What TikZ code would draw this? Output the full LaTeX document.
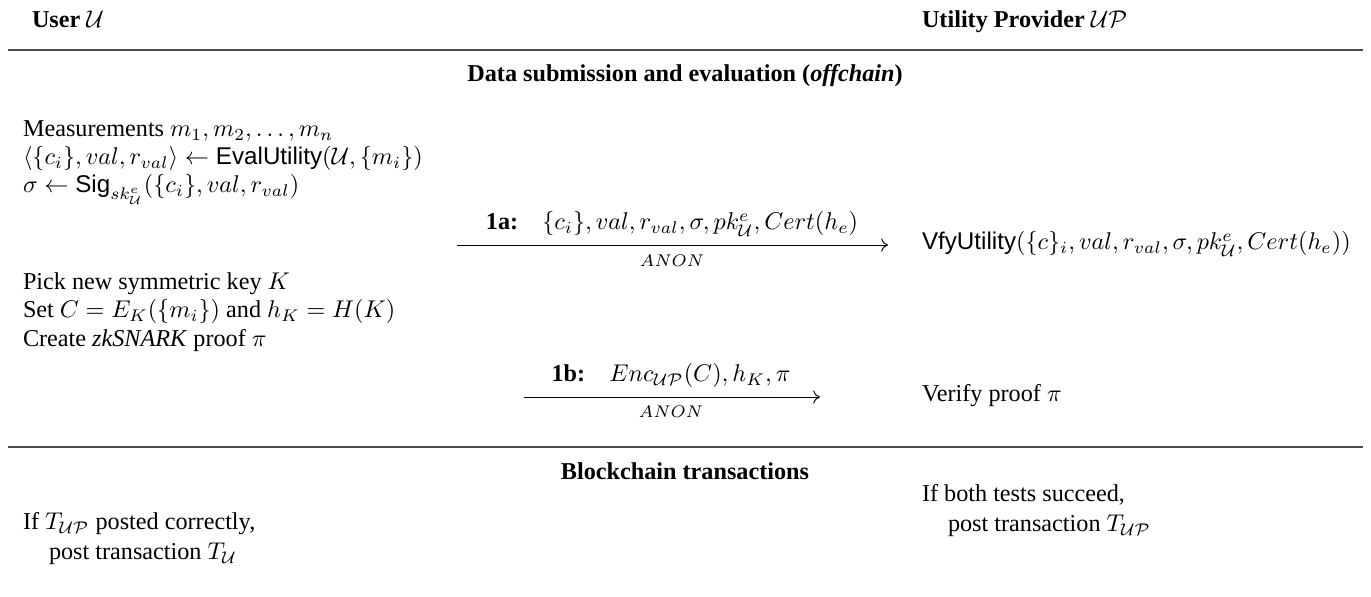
\documentclass[tikz,border=0pt]{standalone}
\usepackage{amsmath}
\usepackage[no-math]{fontspec}
\setmainfont{Liberation Serif}
\setsansfont{Liberation Sans}
\usetikzlibrary{arrows.meta}

\newcommand{\cU}{\mathcal{U}}
\newcommand{\cUP}{\mathcal{UP}}

\tikzset{
  txt/.style={anchor=base west, inner sep=0pt, outer sep=0pt},
  ctr/.style={anchor=base, inner sep=0pt, outer sep=0pt},
  sectionrule/.style={draw=black!70, line width=0.6pt},
  msg/.style={-{To[length=2.8pt,width=5.5pt]}, line width=0.4pt},
}

\begin{document}
\begin{tikzpicture}[x=0.4132pt, y=-0.4132pt, font=\fontsize{10}{12}\selectfont]
  \useasboundingbox (0,0) rectangle (1371,597);

  % party headers
  \node[txt] (user) at (32,28) {\textbf{User} $\cU$};
  \node[txt] (prov) at (922,28) {\textbf{Utility Provider} $\cUP$};
  \draw[sectionrule] (8,50) coordinate (r1l) -- (1363,50) coordinate (r1r);

  % phase 1: data submission (offchain)
  \node[ctr] (ph1) at (685,82) {\textbf{Data submission and evaluation (\textit{offchain})}};

  \node[txt] (u1) at (23,137) {Measurements $m_1, m_2, \ldots, m_n$};
  \node[txt] (u2) at (23,165) {$\langle \{c_i\}, val, r_{val}\rangle \leftarrow \textsf{EvalUtility}(\cU, \{m_i\})$};
  \node[txt] (u3) at (23,193) {$\sigma \leftarrow \textsf{Sig}_{sk^e_{\cU}}(\{c_i\}, val, r_{val})$};

  \node[txt] (u4) at (23,290) {Pick new symmetric key $K$};
  \node[txt] (u5) at (23,318) {Set $C = E_K(\{m_i\})$ and $h_K = H(K)$};
  \node[txt] (u6) at (23,347) {Create \textit{zkSNARK} proof $\pi$};

  % message 1a
  \coordinate (m1s) at (457,245);
  \coordinate (m1e) at (888,245);
  \draw[msg] (m1s) -- (m1e);
  \node[ctr] (m1lab) at (672,230) {\textbf{1a:}\quad $\{c_i\}, val, r_{val}, \sigma, pk^e_{\cU}, Cert(h_e)$};
  \node[ctr] (m1an) at (672,267) {$\scriptstyle ANON$};
  \node[txt] (p1) at (922,250) {$\textsf{VfyUtility}(\{c\}_i, val, r_{val}, \sigma, pk^e_{\cU}, Cert(h_e))$};

  % message 1b
  \coordinate (m2s) at (524,397);
  \coordinate (m2e) at (820,397);
  \draw[msg] (m2s) -- (m2e);
  \node[ctr] (m2lab) at (671,382) {\textbf{1b:}\quad $Enc_{\cUP}(C), h_K, \pi$};
  \node[ctr] (m2an) at (671,418) {$\scriptstyle ANON$};
  \node[txt] (p2) at (922,402) {Verify proof $\pi$};

  \draw[sectionrule] (8,447) coordinate (r2l) -- (1363,447) coordinate (r2r);

  % phase 2: blockchain transactions
  \node[ctr] (ph2) at (685,480) {\textbf{Blockchain transactions}};

  \node[txt] (p3) at (922,502) {If both tests succeed,};
  \node[txt] (p4) at (948,532) {post transaction $T_{\cUP}$};

  \node[txt] (u7) at (23,530) {If $T_{\cUP}$ posted correctly,};
  \node[txt] (u8) at (49,560) {post transaction $T_{\cU}$};
\end{tikzpicture}
\end{document}
